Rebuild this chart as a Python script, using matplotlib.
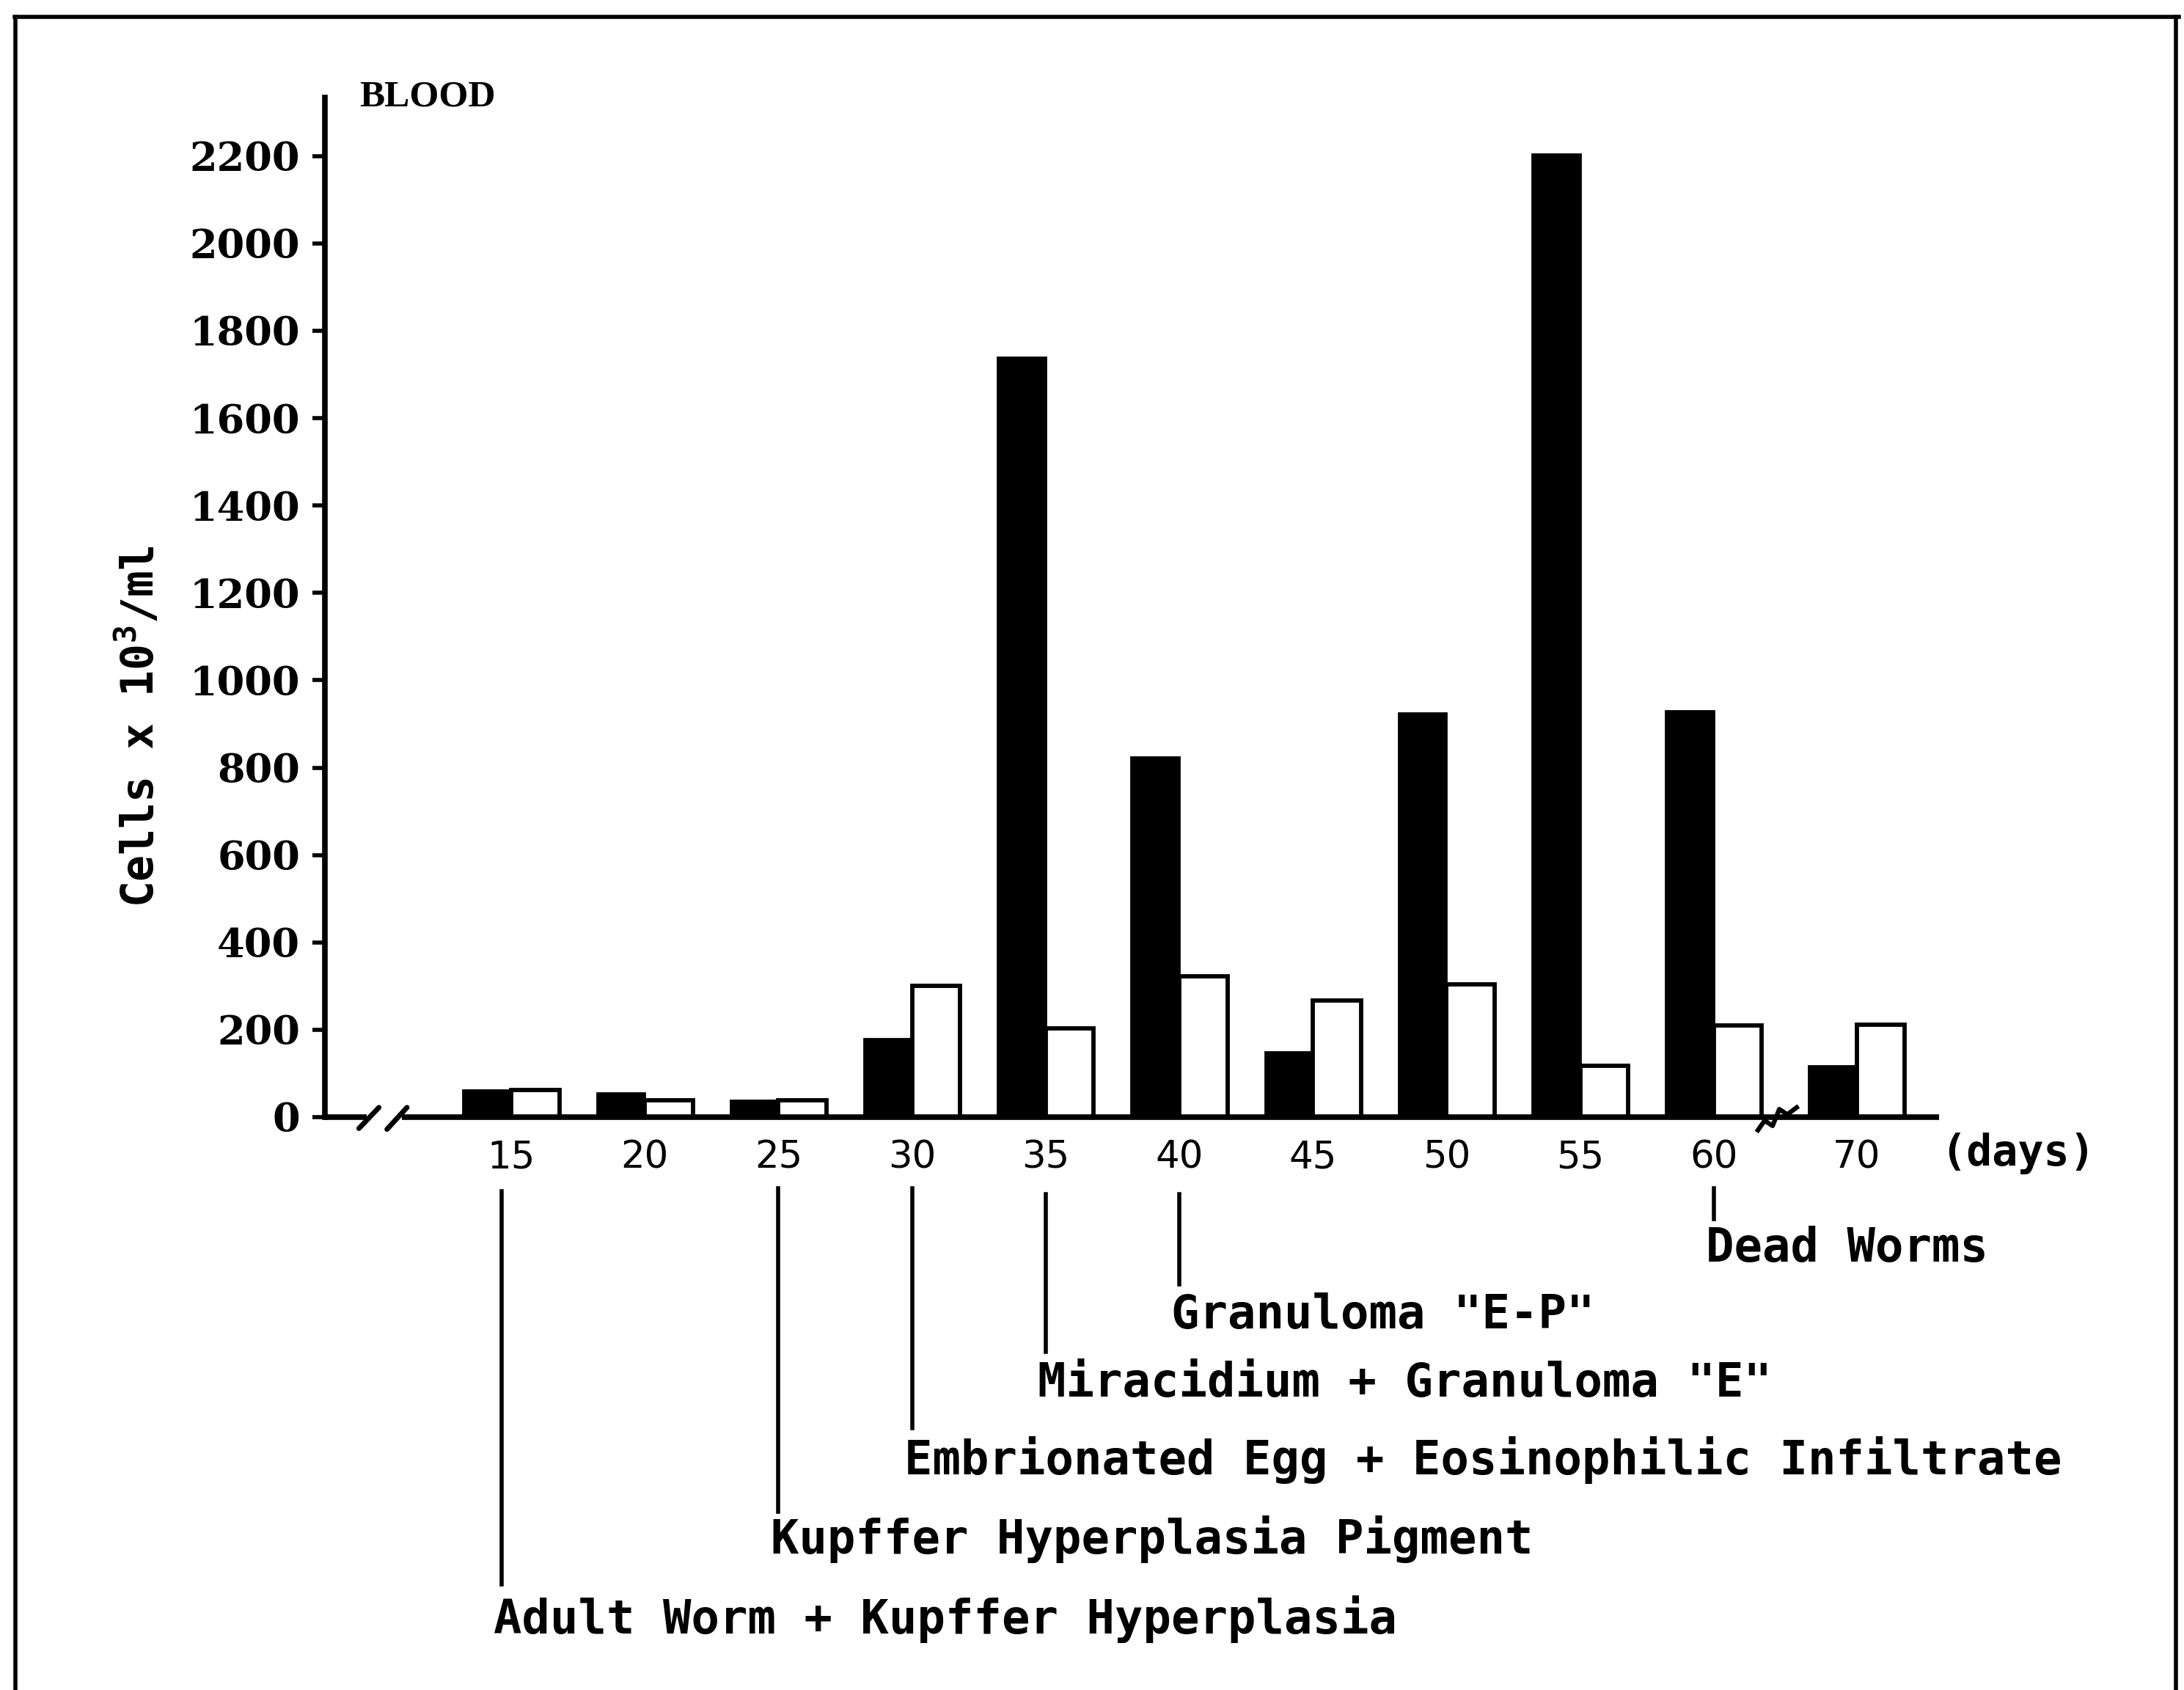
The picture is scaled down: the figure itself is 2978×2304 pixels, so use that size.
import matplotlib
matplotlib.use("Agg")
import matplotlib.pyplot as plt
import numpy as np
from matplotlib.transforms import blended_transform_factory
from matplotlib.lines import Line2D

# --- data -------------------------------------------------------------
days = ["15", "20", "25", "30", "35", "40", "45", "50", "55", "60", "70"]
black_counts = [62, 55, 38, 180, 1740, 825, 150, 925, 2205, 930, 118]
white_counts = [62, 38, 38, 300, 203, 322, 267, 303, 117, 210, 212]
y_ticks = [0, 200, 400, 600, 800, 1000, 1200, 1400, 1600, 1800, 2000, 2200]

event_days = ["15", "25", "30", "35", "40", "60"]
event_labels = [
    "Adult Worm + Kupffer Hyperplasia",
    "Kupffer Hyperplasia Pigment",
    "Embrionated Egg + Eosinophilic Infiltrate",
    'Miracidium + Granuloma "E"',
    'Granuloma "E-P"',
    "Dead Worms",
]

# --- layout ------------------------------------------------------------
# slot positions along the x axis (a little extra room across the 60-70 break)
slots = [0, 1, 2, 3, 4, 5, 6, 7, 8, 9, 10.07]
# figure-fraction heights of the event leader lines and labels
event_line_top = [0.2951, 0.2968, 0.2968, 0.2935, 0.2935, 0.2968]
event_line_bottom = [0.0627, 0.1055, 0.1550, 0.2003, 0.2399, 0.2787]
event_text_y = [0.0420, 0.0890, 0.1360, 0.1814, 0.2218, 0.2613]
event_line_shift = [-0.07, 0, 0, 0, 0, 0]

plt.rcParams["mathtext.fontset"] = "custom"
plt.rcParams["mathtext.rm"] = "DejaVu Sans Mono:bold"
plt.rcParams["mathtext.default"] = "regular"

fig = plt.figure(figsize=(29.78, 23.04), dpi=100)
fig.patch.set_facecolor("white")
ax = fig.add_axes([0.1486, 0.3390, 0.7392, 0.6033])

x = np.array(slots)
w = 0.36
ax.bar(x - w / 2, black_counts, w, color="black", edgecolor="black",
       linewidth=2, zorder=2)
ax.bar(x + w / 2, white_counts, w, color="white", edgecolor="black",
       linewidth=4.2, zorder=2)

ax.set_xlim(-1.397, 10.685)
ax.set_ylim(0, 2334)

for side in ("top", "right", "bottom"):
    ax.spines[side].set_visible(False)
ax.spines["left"].set_linewidth(5.5)

ax.set_yticks(y_ticks)
ax.set_yticklabels([str(v) for v in y_ticks], fontfamily="DejaVu Serif",
                   fontweight="bold", fontsize=39)
ax.tick_params(axis="y", direction="out", length=12, width=4, pad=12)

ax.set_xticks(x)
ax.set_xticklabels(days, fontfamily="DejaVu Sans", fontsize=37)
ax.tick_params(axis="x", length=0, pad=22)

# broken x axis: short stub, double slash, then the main run
axis_kw = dict(color="black", linewidth=5.5, solid_capstyle="butt",
               clip_on=False, zorder=4)
ax.plot([-1.397, -1.08], [0, 0], **axis_kw)
ax.plot([-0.82, 10.685], [0, 0], **axis_kw)
slash_kw = dict(color="black", linewidth=5, solid_capstyle="round",
                clip_on=False, zorder=4)
ax.plot([-1.14, -0.99], [-26, 22], **slash_kw)
ax.plot([-0.93, -0.78], [-28, 22], **slash_kw)
# squiggle marking the gap between day 60 and day 70
ax.plot([9.33, 9.38, 9.44, 9.49, 9.55, 9.62],
        [-30, -8, -20, 18, 6, 22], color="black", linewidth=4.5,
        clip_on=False, zorder=4)

ax.text(0.0216, 1.0, "BLOOD", transform=ax.transAxes, ha="left",
        va="center", fontfamily="Liberation Serif", fontweight="bold",
        fontsize=37)

fig.text(0.0640, 0.5700, r"Cells x 10$^{3}$/ml", rotation=90,
         ha="center", va="center", fontfamily="DejaVu Sans Mono",
         fontweight="bold", fontsize=43)

trans = blended_transform_factory(ax.transData, fig.transFigure)
ax.text(10.70, 0.3174, "(days)", transform=trans, ha="left", va="center",
        fontfamily="DejaVu Sans Mono", fontweight="bold", fontsize=42)

# pathology events along the time course
for d, label, yt, yb, ty, dx in zip(event_days, event_labels,
                                    event_line_top, event_line_bottom,
                                    event_text_y, event_line_shift):
    xi = slots[days.index(d)] + dx
    fig.add_artist(Line2D([xi, xi], [yt, yb], transform=trans,
                          color="black", linewidth=4))
    ax.text(xi - 0.06, ty, label, transform=trans, ha="left",
            va="center", fontfamily="DejaVu Sans Mono", fontweight="bold",
            fontsize=46)

# outer frame (open at the bottom)
frame_kw = dict(transform=fig.transFigure, color="black", linewidth=4)
fig.add_artist(Line2D([0.0068, 0.9975], [0.9900, 0.9900], **frame_kw))
fig.add_artist(Line2D([0.0070, 0.0070], [0.9900, 0.0], **frame_kw))
fig.add_artist(Line2D([0.9962, 0.9962], [0.9900, 0.0], **frame_kw))

fig.savefig("out.png", dpi=100, facecolor="white")
